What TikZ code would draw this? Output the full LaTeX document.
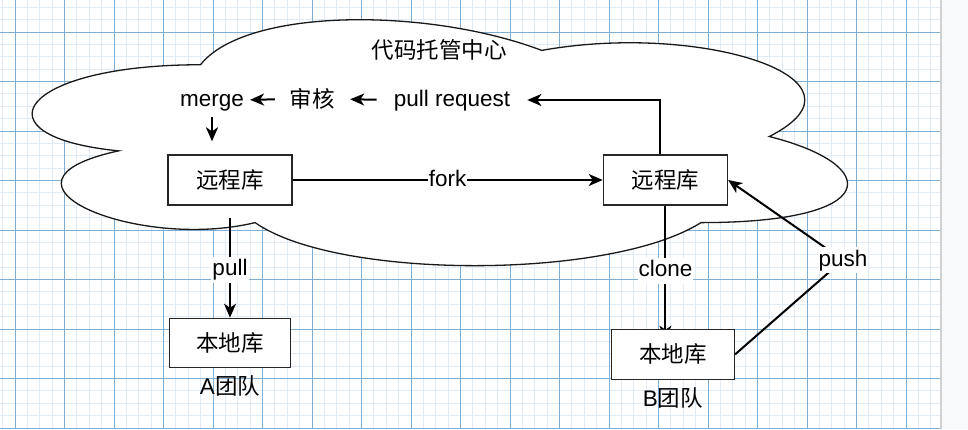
\documentclass[tikz,border=0pt]{standalone}
\usepackage{fontspec}
\setmainfont{Liberation Sans}
\newfontfamily\cjk{Noto Sans CJK SC}
\usetikzlibrary{arrows.meta,positioning,backgrounds}
\definecolor{gridminor}{RGB}{224,235,247}
\definecolor{gridmajor}{RGB}{128,175,214}
\definecolor{panel}{RGB}{248,249,250}

\begin{document}
\begin{tikzpicture}[x=1pt,y=-1pt,font=\fontsize{22.5pt}{27pt}\selectfont,
box/.style={draw=black!85,line width=1.4pt,fill=white,minimum width=124pt,minimum height=50pt,inner sep=0pt},
loc/.style={box,minimum width=121pt,minimum height=49pt},
txt/.style={inner sep=0pt,text height=16pt,text depth=4pt},
lbl/.style={txt,fill=white,inner xsep=1pt,inner ysep=3pt},
arr/.style={-{Stealth[length=14pt,width=12pt,inset=4pt]},line width=2pt},
node distance=112pt and 310pt]
\useasboundingbox (0,0) rectangle (968,429);
\begin{scope}[on background layer]
\fill[white] (0,0) rectangle (940,429);
\foreach \k in {0,...,75} \draw[gridminor,line width=1pt] ({2.625+12.375*\k},0) -- ++(0,429);
\foreach \k in {0,...,34} \draw[gridminor,line width=1pt] (0,{7.25+12.375*\k}) -- ++(940,0);
\foreach \k in {0,...,18} \draw[gridmajor,line width=1pt] ({15+49.5*\k},0) -- ++(0,429);
\foreach \k in {0,...,8} \draw[gridmajor,line width=1pt] (0,{32+49.5*\k}) -- ++(940,0);
\fill[panel] (940,0) rectangle (968,429);
\draw[black!18,line width=1.5pt] (941,0) -- (941,429);
% cloud
\draw[black!90,line width=1.3pt,fill=white,shift={(-27,-7)},x=910pt,y=-287pt]
  (0.25,0.25) .. controls (0.05,0.25) and (0,0.5) .. (0.16,0.55)
  .. controls (0,0.66) and (0.18,0.9) .. (0.31,0.8)
  .. controls (0.4,1) and (0.7,1) .. (0.8,0.8)
  .. controls (1,0.8) and (1,0.6) .. (0.875,0.5)
  .. controls (1,0.3) and (0.8,0.1) .. (0.625,0.2)
  .. controls (0.5,0.05) and (0.3,0.05) .. (0.25,0.25) -- cycle;
\end{scope}
\node (title) at (439,50) {\cjk 代码托管中心};
\node[txt] (merge) at (212,100) {merge};
\node[inner sep=0pt] (audit) at (312,99) {\cjk 审核};
\node[txt] (pr) at (452,100) {pull request};
\node[box] (rl) at (230,180) {\cjk 远程库};
\node[box,right=of rl] (rr) {\cjk 远程库};
\node[loc,below=of rl] (ll) {\cjk 本地库};
\node[loc,below=123pt of rr,xshift=7.5pt,minimum width=123pt,minimum height=50pt] (lr) {\cjk 本地库};
\node[inner sep=0pt,below=7pt of ll] (teama) {A{\cjk 团队}};
\node[inner sep=0pt,below=7pt of lr] (teamb) {B{\cjk 团队}};
\coordinate (pushbend) at (843,260);
\draw[arr,shorten <=17pt,shorten >=15.5pt] (pr.west) -- (audit.east);
\draw[arr,shorten <=14.5pt,shorten >=6pt] (audit.west) -- (merge.east);
\draw[arr,shorten <=7pt,shorten >=13pt] (merge.south) -- (merge.south |- rl.north);
\draw[arr] ([xshift=-5pt]rr.north) |- ([xshift=17pt]pr.east);
\draw[arr] (rl) -- node[lbl]{fork} (rr);
\draw[arr,shorten <=12pt] (rl) -- node[lbl,pos=.57]{pull} (ll);
\draw[arr] (lr.east) -- (pushbend) node[lbl]{push} -- (rr.east);
\begin{scope}[on background layer]
\draw[arr,shorten >=-11pt] (rr.south) -- node[lbl,pos=.53]{clone} (rr.south |- lr.north);
\end{scope}
\end{tikzpicture}
\end{document}
